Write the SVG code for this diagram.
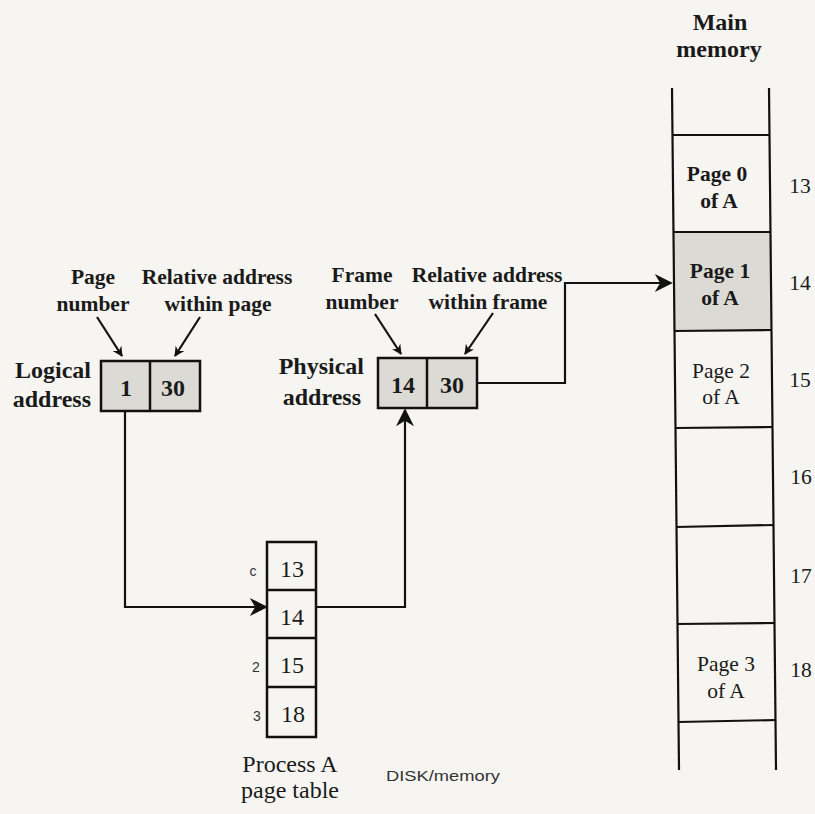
<svg xmlns="http://www.w3.org/2000/svg" width="815" height="814" viewBox="0 0 815 814">
<defs>
<style>
.t{font-family:"Liberation Serif","Times New Roman",serif;font-size:21.5px;fill:#1a1a1a;}
.L{font-size:24px;}
.b{font-weight:bold;}
.m{text-anchor:middle;}
.e{text-anchor:end;}
.box{fill:none;stroke:#111;stroke-width:2.5;}
.sh{fill:#dcdad5;stroke:none;}
.ln{fill:none;stroke:#111;stroke-width:2.2;}
.hand{font-family:"Liberation Sans",Arial,sans-serif;font-size:14px;fill:#333;}
</style>
<marker id="ah" viewBox="0 0 10 10" refX="9" refY="5" markerWidth="10" markerHeight="10" orient="auto" markerUnits="userSpaceOnUse">
<path d="M0,0 L10,5 L0,10 L3,5 z" fill="#111"/>
</marker>
<marker id="ahb" viewBox="0 0 10 10" refX="9" refY="5" markerWidth="24" markerHeight="18" orient="auto" markerUnits="userSpaceOnUse">
<path d="M0,0 L10,5 L0,10 L3,5 z" fill="#111"/>
</marker>
</defs>
<rect width="815" height="814" fill="#f6f5f1"/>

<g id="main-memory">
<text class="t L b m" x="720" y="30">Main</text>
<text class="t L b m" x="719" y="57">memory</text>
<polygon class="sh" points="673,232 770,232 771,330 674,330"/>
<line class="ln" x1="672" y1="88" x2="679" y2="770"/>
<line class="ln" x1="769" y1="88" x2="776" y2="770"/>
<line class="ln" x1="672" y1="135" x2="770" y2="135"/>
<line class="ln" x1="673" y1="232" x2="771" y2="232"/>
<line class="ln" x1="674" y1="331" x2="772" y2="330"/>
<line class="ln" x1="675" y1="428" x2="773" y2="427"/>
<line class="ln" x1="676" y1="527" x2="774" y2="525"/>
<line class="ln" x1="677" y1="624" x2="775" y2="623"/>
<line class="ln" x1="678" y1="722" x2="776" y2="720"/>
<text class="t b m" x="717" y="181" font-size="21">Page 0</text>
<text class="t b m" x="719" y="208" font-size="21">of A</text>
<text class="t b m" x="720" y="278" font-size="22">Page 1</text>
<text class="t b m" x="720" y="305" font-size="22">of A</text>
<text class="t m" x="721" y="378" font-size="25">Page 2</text>
<text class="t m" x="721" y="404" font-size="25">of A</text>
<text class="t m" x="726" y="671" font-size="25">Page 3</text>
<text class="t m" x="726" y="698" font-size="25">of A</text>
<text class="t m" x="800" y="193" font-size="20">13</text>
<text class="t m" x="800" y="290" font-size="20">14</text>
<text class="t m" x="800" y="387" font-size="20">15</text>
<text class="t m" x="801" y="484" font-size="20">16</text>
<text class="t m" x="801" y="583" font-size="20">17</text>
<text class="t m" x="801" y="677" font-size="20">18</text>
</g>

<g id="logical-address">
<text class="t b m" x="93" y="284">Page</text>
<text class="t b m" x="93" y="311">number</text>
<text class="t b m" x="217" y="284">Relative address</text>
<text class="t b m" x="218" y="311">within page</text>
<text class="t L b e" x="91" y="378">Logical</text>
<text class="t L b e" x="91" y="407">address</text>
<rect class="sh" x="101" y="361" width="99" height="50"/>
<rect class="box" x="101" y="361" width="99" height="50"/>
<line class="box" x1="150" y1="361" x2="150" y2="411"/>
<text class="t L b m" x="126" y="396" font-size="23">1</text>
<text class="t L b m" x="173" y="396" font-size="23">30</text>
<line class="ln" x1="97" y1="317" x2="122" y2="356" marker-end="url(#ah)" stroke-width="1.8"/>
<line class="ln" x1="200" y1="317" x2="175" y2="356" marker-end="url(#ah)" stroke-width="1.8"/>
</g>

<g id="physical-address">
<text class="t b m" x="362" y="282">Frame</text>
<text class="t b m" x="362" y="309">number</text>
<text class="t b m" x="487" y="282">Relative address</text>
<text class="t b m" x="488" y="309">within frame</text>
<text class="t L b e" x="364" y="374">Physical</text>
<text class="t L b e" x="361" y="405">address</text>
<rect class="sh" x="378" y="358" width="99" height="50"/>
<rect class="box" x="378" y="358" width="99" height="50"/>
<line class="box" x1="427" y1="358" x2="427" y2="408"/>
<text class="t L b m" x="403" y="393" font-size="23">14</text>
<text class="t L b m" x="452" y="393" font-size="23">30</text>
<line class="ln" x1="375" y1="314" x2="401" y2="354" marker-end="url(#ah)" stroke-width="1.8"/>
<line class="ln" x1="493" y1="313" x2="465" y2="354" marker-end="url(#ah)" stroke-width="1.8"/>
</g>

<g id="page-table">
<rect class="box" x="267" y="542" width="49" height="195"/>
<line class="box" x1="267" y1="590" x2="316" y2="590"/>
<line class="box" x1="267" y1="638" x2="316" y2="638"/>
<line class="box" x1="267" y1="687" x2="316" y2="687"/>
<text class="t L m" x="292" y="577">13</text>
<text class="t L m" x="292" y="625">14</text>
<text class="t L m" x="292" y="673">15</text>
<text class="t L m" x="293" y="722">18</text>
<text class="hand m" x="253" y="576">c</text>
<text class="hand m" x="256" y="672">2</text>
<text class="hand m" x="257" y="721">3</text>
<text class="t L m" x="290" y="772">Process A</text>
<text class="t L m" x="290" y="798">page table</text>
</g>

<text class="hand" x="386" y="781" textLength="114" lengthAdjust="spacingAndGlyphs">DISK/memory</text>

<g id="connectors">
<polyline class="ln" points="125,411 125,607 266,607" marker-end="url(#ahb)"/>
<polyline class="ln" points="317,607 405,607 405,410" marker-end="url(#ahb)"/>
<polyline class="ln" points="477,383 565,383 565,283 671,283" marker-end="url(#ahb)"/>
</g>
</svg>
